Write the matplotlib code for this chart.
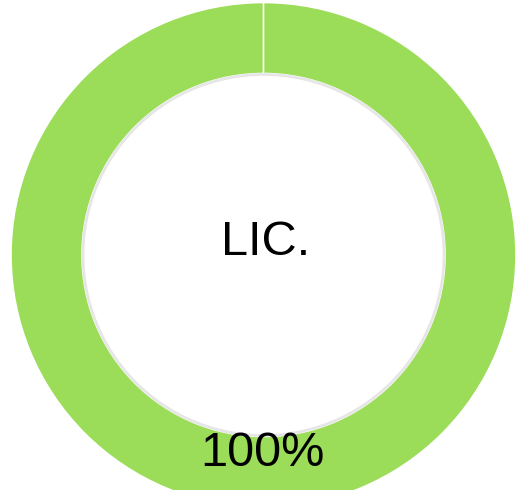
import numpy as np
import matplotlib
matplotlib.use("Agg")
import matplotlib.pyplot as plt
from matplotlib.patches import Circle

# licence share: licensed vs. not licensed
labels = ["Licensed", "Unlicensed"]
values = [100, 0]
centerLabel = "LIC."
ringColor = "#9bdc58"

W, H = 526, 490
fig = plt.figure(figsize=(W / 100, H / 100), dpi=100)
ax = fig.add_axes([0, 0, 1, 1])

# positions given in pixels from the top, flipped for the axes
cx, cy = 263.5, H - 255.0
rOuter, rInner = 252.5, 181.5

ax.pie(values, colors=[ringColor, ringColor], startangle=90, counterclock=False,
       center=(cx, cy), radius=rOuter, frame=True,
       wedgeprops=dict(width=rOuter - rInner, edgecolor="white", linewidth=1.2))

# soft grey rim on the hole
ax.add_patch(Circle((cx, cy), rInner - 1, facecolor="none", edgecolor="#e6e6e6", linewidth=2.0))

share = 100.0 * values[0] / sum(values)
ax.text(cx + 2.5, H - 243, centerLabel, ha="center", va="center", fontsize=35,
        family="Liberation Sans", color="black")
ax.text(cx - 1, H - 454, "%d%%" % share, ha="center", va="center", fontsize=35,
        family="Liberation Sans", color="black")

ax.set_xlim(0, W)
ax.set_ylim(0, H)
ax.set_aspect("equal")
ax.axis("off")

fig.savefig("out.png", dpi=100)
plt.close(fig)
